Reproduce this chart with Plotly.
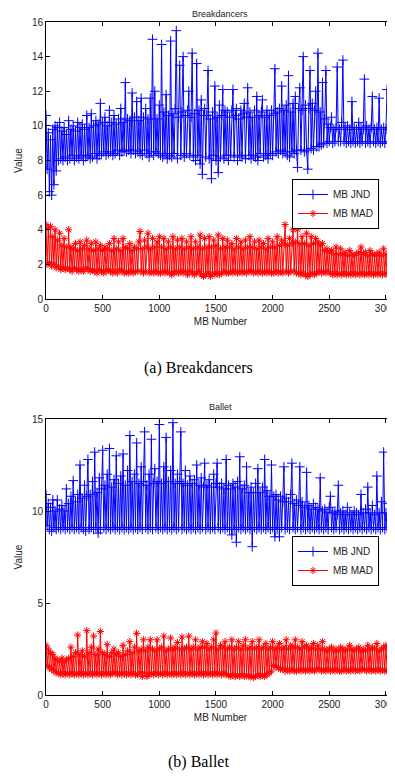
import plotly.graph_objects as go

# ---------------- data (one value every 10 MBs) ----------------
bd_jnd = [
    # 0-190
    10.6, 7.5, 9.6, 6.2, 9.2, 6.0, 9.8, 6.6, 10.0, 7.4, 9.9, 8.0, 10.2, 8.1, 9.7, 8.0, 9.9, 8.2, 9.5, 8.0,
    # 200-390
    10.3, 8.1, 9.8, 8.3, 10.0, 8.0, 9.7, 8.2, 10.2, 8.1, 9.9, 8.3, 10.1, 8.0, 9.8, 8.2, 10.6, 8.3, 9.9, 8.1,
    # 400-590
    10.7, 8.2, 10.0, 8.4, 10.3, 8.1, 10.1, 8.3, 11.3, 8.4, 10.2, 8.5, 10.5, 8.3, 10.0, 8.4, 10.9, 8.5, 10.2, 8.3,
    # 600-790
    10.6, 8.4, 10.1, 8.6, 10.4, 8.3, 11.0, 8.5, 10.2, 8.6, 12.5, 8.5, 10.4, 8.6, 10.3, 8.4, 11.9, 8.6, 10.5, 8.4,
    # 800-990
    11.4, 8.5, 10.3, 8.4, 11.6, 8.3, 10.5, 8.6, 11.0, 8.4, 10.4, 8.2, 11.6, 8.5, 15.0, 8.3, 12.0, 8.5, 10.4, 8.4,
    # 1000-1190
    11.2, 8.3, 14.7, 8.2, 10.8, 8.4, 11.8, 8.1, 10.6, 8.3, 14.9, 8.2, 10.7, 8.4, 11.0, 15.5, 8.1, 10.5, 13.5, 8.3,
    # 1200-1390
    10.8, 14.0, 8.2, 10.6, 8.4, 10.9, 12.0, 8.3, 10.5, 14.2, 8.2, 10.7, 8.0, 13.6, 8.3, 10.9, 7.8, 11.5, 7.2, 10.6,
    # 1400-1590
    11.0, 8.2, 10.6, 13.2, 8.1, 10.4, 6.95, 10.8, 8.3, 12.3, 8.0, 10.5, 7.3, 11.2, 8.2, 10.6, 12.1, 8.1, 10.9, 8.3,
    # 1600-1790
    10.8, 8.0, 10.5, 8.3, 10.9, 12.1, 8.2, 10.6, 11.0, 8.0, 10.4, 8.3, 10.9, 8.2, 10.7, 11.3, 8.1, 10.5, 12.2, 8.3,
    # 1800-1990
    10.8, 8.1, 10.5, 8.3, 10.9, 8.2, 11.7, 8.0, 10.6, 8.4, 10.8, 11.5, 8.2, 10.5, 8.3, 10.9, 8.1, 10.6, 8.4, 10.9,
    # 2000-2190
    8.3, 10.7, 13.3, 8.5, 10.8, 8.4, 11.0, 8.6, 12.3, 8.4, 10.9, 8.5, 11.2, 8.3, 12.9, 8.2, 10.8, 8.5, 11.3, 8.4,
    # 2200-2390
    11.7, 8.6, 7.6, 11.0, 12.2, 8.6, 10.9, 14.0, 8.5, 11.2, 8.6, 7.5, 11.0, 13.2, 8.7, 11.3, 8.6, 10.9, 12.0, 8.8,
    # 2400-2590
    14.2, 8.8, 10.8, 8.9, 12.5, 9.0, 10.4, 13.2, 9.0, 10.1, 9.1, 9.9, 10.5, 9.0, 9.8, 9.1, 9.9, 13.4, 9.1, 9.8,
    # 2600-2790
    9.1, 10.2, 13.8, 9.1, 9.9, 9.0, 10.0, 9.1, 9.8, 9.0, 11.4, 9.1, 9.9, 9.0, 9.8, 9.1, 10.2, 9.0, 9.9, 9.1,
    # 2800-2990
    9.8, 12.7, 9.0, 10.0, 9.1, 9.8, 9.0, 9.9, 11.7, 9.1, 9.8, 9.0, 9.9, 9.1, 11.6, 9.0, 9.8, 9.1, 9.9, 9.0,
    # 3000-3070
    9.8, 12.1, 9.0, 9.9, 9.1, 9.8, 9.0, 9.7,
]
bd_mad = [
    4.3, 2.0, 4.1, 2.1, 4.2, 1.9, 3.6, 2.0, 4.0, 1.8, 3.4, 1.9, 3.8, 1.7, 3.1, 1.8, 3.5, 1.7, 3.0, 1.8,
    4.0, 1.7, 3.0, 1.6, 2.9, 1.8, 3.2, 1.7, 2.8, 1.6, 3.3, 1.7, 2.9, 1.6, 3.1, 1.8, 3.4, 1.7, 2.9, 1.6,
    3.2, 1.7, 2.8, 1.6, 3.3, 1.5, 2.9, 1.7, 3.1, 1.6, 2.8, 1.5, 3.0, 1.6, 2.9, 1.7, 3.2, 1.6, 2.8, 1.5,
    3.5, 1.6, 2.9, 1.5, 3.3, 1.7, 2.8, 1.6, 3.5, 1.5, 3.0, 1.6, 2.9, 1.5, 3.2, 1.6, 2.8, 1.5, 3.0, 1.6,
    2.9, 1.6, 3.3, 3.9, 1.6, 2.9, 1.5, 3.4, 1.6, 3.0, 3.8, 1.5, 2.9, 1.6, 3.5, 1.5, 3.0, 1.6, 3.3, 1.5,
    3.6, 1.5, 3.0, 1.6, 3.5, 1.5, 2.9, 1.6, 3.3, 1.5, 3.0, 1.4, 3.6, 1.5, 2.9, 1.6, 3.4, 1.5, 3.0, 1.6,
    3.5, 1.5, 2.9, 1.6, 3.3, 1.4, 3.0, 1.6, 3.6, 1.5, 2.9, 1.4, 3.3, 1.5, 3.0, 1.6, 3.7, 1.4, 2.9, 1.3,
    3.5, 1.4, 3.0, 1.5, 3.6, 1.3, 3.0, 1.5, 3.4, 1.4, 3.1, 1.5, 3.7, 1.4, 2.9, 1.5, 3.5, 1.6, 3.0, 1.5,
    3.4, 1.5, 3.0, 1.6, 3.2, 1.5, 2.9, 1.6, 3.5, 1.5, 3.0, 1.6, 3.3, 1.5, 2.9, 1.6, 3.4, 1.5, 3.0, 1.6,
    3.6, 1.6, 3.0, 1.5, 3.3, 1.6, 2.9, 1.5, 3.4, 1.6, 3.0, 1.5, 3.2, 1.6, 2.9, 1.5, 3.5, 1.6, 3.0, 1.5,
    3.3, 1.5, 3.0, 1.6, 3.6, 1.5, 3.1, 1.6, 3.4, 1.5, 3.2, 4.3, 1.6, 3.1, 1.5, 3.5, 1.6, 3.2, 4.0, 1.6,
    3.3, 1.5, 4.0, 1.5, 3.2, 1.4, 3.6, 1.5, 3.2, 1.4, 3.8, 1.3, 3.1, 1.4, 3.6, 1.5, 3.2, 1.4, 3.5, 1.5,
    3.3, 1.6, 3.1, 1.5, 3.2, 1.6, 2.8, 1.5, 2.9, 1.6, 2.7, 1.5, 2.8, 1.4, 2.6, 1.5, 3.0, 1.4, 2.6, 1.5,
    2.9, 1.4, 2.6, 1.5, 2.7, 1.4, 2.5, 1.5, 2.8, 1.4, 2.6, 1.5, 2.5, 1.4, 2.6, 1.5, 2.7, 1.4, 3.0, 1.5,
    2.6, 1.4, 2.7, 1.5, 2.5, 1.4, 2.8, 1.5, 2.6, 1.4, 2.5, 1.5, 2.6, 1.4, 2.7, 1.5, 2.5, 1.4, 2.9, 1.5,
    2.6, 1.4, 2.5, 1.5, 2.6, 1.4, 2.4, 1.5,
]
ballet_jnd = [
    10.9, 9.2, 10.4, 9.0, 10.2, 8.9, 10.6, 9.1, 10.0, 9.0, 10.6, 9.1, 10.1, 9.0, 10.3, 9.1, 10.0, 9.0, 11.2, 9.1,
    10.4, 9.0, 10.8, 9.1, 11.65, 9.0, 10.5, 9.1, 10.9, 9.0, 12.5, 9.1, 10.7, 9.0, 11.4, 8.9, 10.8, 12.8, 9.0, 10.9,
    9.1, 11.6, 9.0, 13.2, 9.1, 11.0, 8.8, 11.8, 9.0, 11.2, 13.3, 9.1, 11.4, 9.0, 12.0, 9.1, 13.4, 9.0, 11.3, 9.1,
    11.7, 9.0, 13.0, 9.1, 11.5, 9.0, 11.9, 9.1, 13.1, 9.0, 11.4, 9.1, 12.2, 9.0, 14.1, 9.1, 11.6, 9.0, 12.0, 9.1,
    13.7, 9.0, 11.5, 9.1, 12.4, 9.0, 11.6, 14.3, 9.1, 11.4, 9.0, 12.0, 9.1, 13.9, 9.0, 11.5, 12.3, 9.1, 11.6, 9.0,
    14.7, 9.1, 11.5, 9.0, 12.4, 9.1, 14.0, 9.0, 11.6, 9.1, 12.2, 9.0, 14.8, 9.1, 11.5, 9.0, 12.0, 9.1, 11.6, 14.3,
    9.0, 11.5, 9.1, 12.2, 9.0, 11.4, 9.1, 11.9, 9.0, 11.5, 9.1, 11.7, 9.0, 12.5, 9.1, 11.4, 9.0, 11.8, 9.1, 11.3,
    12.6, 9.0, 11.4, 9.1, 11.7, 9.0, 11.3, 9.1, 12.0, 9.0, 11.5, 12.6, 9.1, 11.3, 9.0, 11.5, 9.1, 11.2, 9.0, 12.8,
    9.1, 11.4, 9.0, 11.2, 8.7, 11.5, 9.0, 11.3, 8.3, 11.6, 9.1, 12.95, 9.0, 11.2, 9.1, 11.4, 9.0, 12.4, 9.1, 11.0,
    9.0, 11.3, 8.06, 11.0, 9.1, 11.5, 9.0, 12.3, 9.1, 11.0, 9.0, 11.3, 9.1, 12.8, 9.0, 11.1, 9.1, 10.8, 9.0, 12.5,
    9.1, 10.8, 8.6, 10.9, 9.0, 10.6, 8.6, 10.8, 9.1, 10.5, 12.4, 9.0, 10.7, 9.1, 10.5, 9.0, 10.9, 12.6, 9.1, 10.4,
    9.0, 10.6, 9.1, 10.3, 12.4, 9.0, 10.5, 9.1, 10.2, 9.0, 12.1, 9.1, 10.3, 9.0, 10.1, 9.1, 10.4, 9.0, 10.2, 9.1,
    10.1, 9.0, 11.8, 9.1, 10.0, 9.0, 10.1, 9.1, 9.9, 9.0, 10.2, 10.8, 9.1, 9.9, 9.0, 10.0, 9.1, 9.8, 11.4, 9.0,
    9.9, 9.1, 10.0, 9.0, 9.8, 9.1, 10.2, 9.0, 9.9, 9.1, 9.8, 9.0, 10.0, 9.1, 9.9, 9.0, 9.8, 9.1, 10.9, 9.0,
    9.9, 9.1, 10.1, 9.0, 11.3, 9.1, 9.9, 9.0, 10.3, 9.1, 9.8, 9.0, 11.9, 9.1, 9.9, 9.0, 10.5, 9.1, 13.2, 9.0,
    9.9, 9.1, 10.4, 9.0, 9.8, 12.6, 9.1, 9.9,
]
ballet_mad = [
    2.7, 1.6, 2.5, 1.5, 2.3, 1.4, 2.2, 1.3, 2.0, 1.2, 1.9, 1.2, 1.8, 1.1, 2.0, 1.2, 1.8, 1.1, 1.9, 1.2,
    2.0, 1.1, 2.6, 1.2, 2.1, 1.1, 2.3, 1.2, 3.26, 1.1, 2.2, 1.2, 2.4, 1.1, 2.1, 1.2, 3.5, 1.1, 2.3, 1.2,
    2.6, 1.1, 3.2, 1.2, 2.2, 1.1, 2.5, 1.2, 3.45, 1.1, 2.3, 1.2, 2.2, 1.1, 2.75, 1.2, 2.1, 1.1, 2.3, 1.2,
    2.5, 1.2, 2.2, 1.1, 2.3, 1.2, 2.1, 1.1, 2.7, 1.2, 2.2, 1.1, 2.4, 1.2, 2.9, 1.1, 2.3, 1.2, 2.6, 1.1,
    3.35, 1.1, 2.4, 1.2, 2.5, 1.0, 3.0, 1.2, 2.4, 1.0, 2.6, 1.1, 3.0, 1.2, 2.5, 1.1, 2.4, 1.2, 3.0, 1.1,
    2.5, 1.2, 2.6, 1.1, 3.2, 1.2, 2.4, 1.1, 2.5, 1.2, 3.1, 1.1, 2.5, 1.2, 2.6, 1.1, 2.85, 1.2, 2.5, 1.1,
    3.15, 1.2, 2.5, 1.1, 2.6, 1.2, 3.2, 1.1, 2.5, 1.2, 2.6, 1.1, 3.0, 1.2, 2.5, 1.1, 2.6, 1.2, 2.9, 1.1,
    2.6, 1.2, 2.8, 1.1, 2.5, 1.2, 2.6, 1.1, 3.0, 1.2, 3.37, 1.1, 2.5, 1.2, 2.7, 1.1, 2.6, 1.2, 2.9, 1.1,
    2.5, 1.1, 2.6, 1.0, 3.0, 1.1, 2.5, 1.0, 2.6, 1.1, 2.9, 1.0, 2.5, 1.1, 2.7, 1.0, 3.0, 1.1, 2.5, 1.0,
    2.6, 1.0, 2.9, 0.95, 2.5, 1.0, 2.6, 1.1, 3.0, 1.0, 2.5, 1.1, 2.6, 1.0, 2.8, 1.1, 2.5, 1.2, 2.6, 1.3,
    2.9, 1.6, 2.5, 1.5, 2.6, 1.5, 2.8, 1.4, 2.5, 1.4, 2.6, 1.3, 3.0, 1.4, 2.5, 1.3, 2.7, 1.4, 2.6, 1.3,
    3.0, 1.3, 2.6, 1.4, 2.5, 1.3, 2.9, 1.4, 2.6, 1.3, 2.7, 1.4, 2.5, 1.3, 2.6, 1.4, 2.8, 1.3, 2.5, 1.4,
    2.7, 1.4, 2.5, 1.3, 2.9, 1.4, 2.5, 1.3, 2.4, 1.4, 2.5, 1.3, 2.6, 1.4, 2.4, 1.3, 2.5, 1.4, 2.4, 1.3,
    2.6, 1.3, 2.5, 1.4, 2.4, 1.3, 2.5, 1.4, 2.7, 1.3, 2.5, 1.4, 2.4, 1.3, 2.5, 1.4, 2.6, 1.3, 2.4, 1.4,
    2.5, 1.4, 2.4, 1.3, 2.7, 1.4, 2.5, 1.3, 2.6, 1.4, 2.5, 1.3, 2.8, 1.4, 2.4, 1.3, 2.5, 1.4, 2.6, 1.3,
    2.7, 1.3, 2.5, 1.4, 2.6, 1.3, 2.4, 1.4,
]
mb_step = 10
x_ticks = [0, 500, 1000, 1500, 2000, 2500, 3000]
y_ticks_top = [0, 2, 4, 6, 8, 10, 12, 14, 16]
y_ticks_bot = [0, 5, 10, 15]
series_names = ["MB JND", "MB MAD"]
titles = ["Breakdancers", "Ballet"]
captions = ["(a) Breakdancers", "(b) Ballet"]

# the page body has an 8px margin, so the figure is drawn 8px in from the top-left
OFF = 8
W, H = 395 - OFF, 776 - OFF
FONT = "Liberation Sans, Arial, Helvetica, sans-serif"
SERIF = "Liberation Serif, Times New Roman, serif"
BLUE = "#0000ff"
RED = "#ff0000"

def px(x):
    return (x - OFF) / W

def py(y):
    return 1 - (y - OFF) / H

def xs(n):
    return [i * mb_step for i in range(n)]

fig = go.Figure()

def add_pair(jnd, mad, xa, ya, leg):
    fig.add_trace(go.Scatter(
        x=xs(len(jnd)), y=jnd, name=series_names[0], mode="lines+markers",
        line=dict(color=BLUE, width=1),
        marker=dict(symbol="cross-thin-open", size=7, line=dict(color=BLUE, width=1)),
        xaxis=xa, yaxis=ya, legend=leg))
    fig.add_trace(go.Scatter(
        x=xs(len(mad)), y=mad, name=series_names[1], mode="lines+markers",
        line=dict(color=RED, width=1),
        marker=dict(symbol="asterisk-open", size=6, line=dict(color=RED, width=1)),
        xaxis=xa, yaxis=ya, legend=leg))

add_pair(bd_jnd, bd_mad, "x", "y", "legend")
add_pair(ballet_jnd, ballet_mad, "x2", "y2", "legend2")

axis_common = dict(
    showline=True, linecolor="black", linewidth=1, mirror="ticks",
    ticks="inside", ticklen=4, tickcolor="black", showgrid=False, zeroline=False,
    tickfont=dict(family=FONT, size=10, color="#222"), automargin=False,
    ticklabeloverflow="allow",
)
xdom = [px(46), 1.0]
fig.update_layout(
    width=W, height=H, margin=dict(l=0, r=0, t=0, b=0, autoexpand=False),
    paper_bgcolor="white", plot_bgcolor="white",
    font=dict(family=FONT, size=10, color="#222"),
    xaxis=dict(domain=xdom, range=[0, 3080], anchor="y", tickvals=x_ticks,
               title=dict(text="MB Number", standoff=4, font=dict(size=10)), **axis_common),
    yaxis=dict(domain=[py(299), py(22)], range=[0, 16], anchor="x", tickvals=y_ticks_top,
               title=dict(text="Value", standoff=7, font=dict(size=10)), **axis_common),
    xaxis2=dict(domain=xdom, range=[0, 3080], anchor="y2", tickvals=x_ticks,
                title=dict(text="MB Number", standoff=4, font=dict(size=10)), **axis_common),
    yaxis2=dict(domain=[py(695), py(419)], range=[0, 15], anchor="x2", tickvals=y_ticks_bot,
                title=dict(text="Value", standoff=7, font=dict(size=10)), **axis_common),
    legend=dict(x=px(292), y=py(179), xanchor="left", yanchor="top",
                bgcolor="white", bordercolor="black", borderwidth=1,
                font=dict(size=10), itemwidth=30, tracegroupgap=0),
    legend2=dict(x=px(292), y=py(536), xanchor="left", yanchor="top",
                 bgcolor="white", bordercolor="black", borderwidth=1,
                 font=dict(size=10), itemwidth=30, tracegroupgap=0),
    showlegend=True,
)

ann = [
    dict(text=titles[0], x=px(220), y=py(14), font=dict(size=9)),
    dict(text=titles[1], x=px(220), y=py(407), font=dict(size=9)),
    dict(text=captions[0], x=px(198), y=py(368), font=dict(family=SERIF, size=16, color="black")),
    dict(text=captions[1], x=px(198), y=py(762), font=dict(family=SERIF, size=16, color="black")),
]
for a in ann:
    fig.add_annotation(xref="paper", yref="paper", xanchor="center", yanchor="middle",
                       showarrow=False, **a)

fig.write_html("out.html")
